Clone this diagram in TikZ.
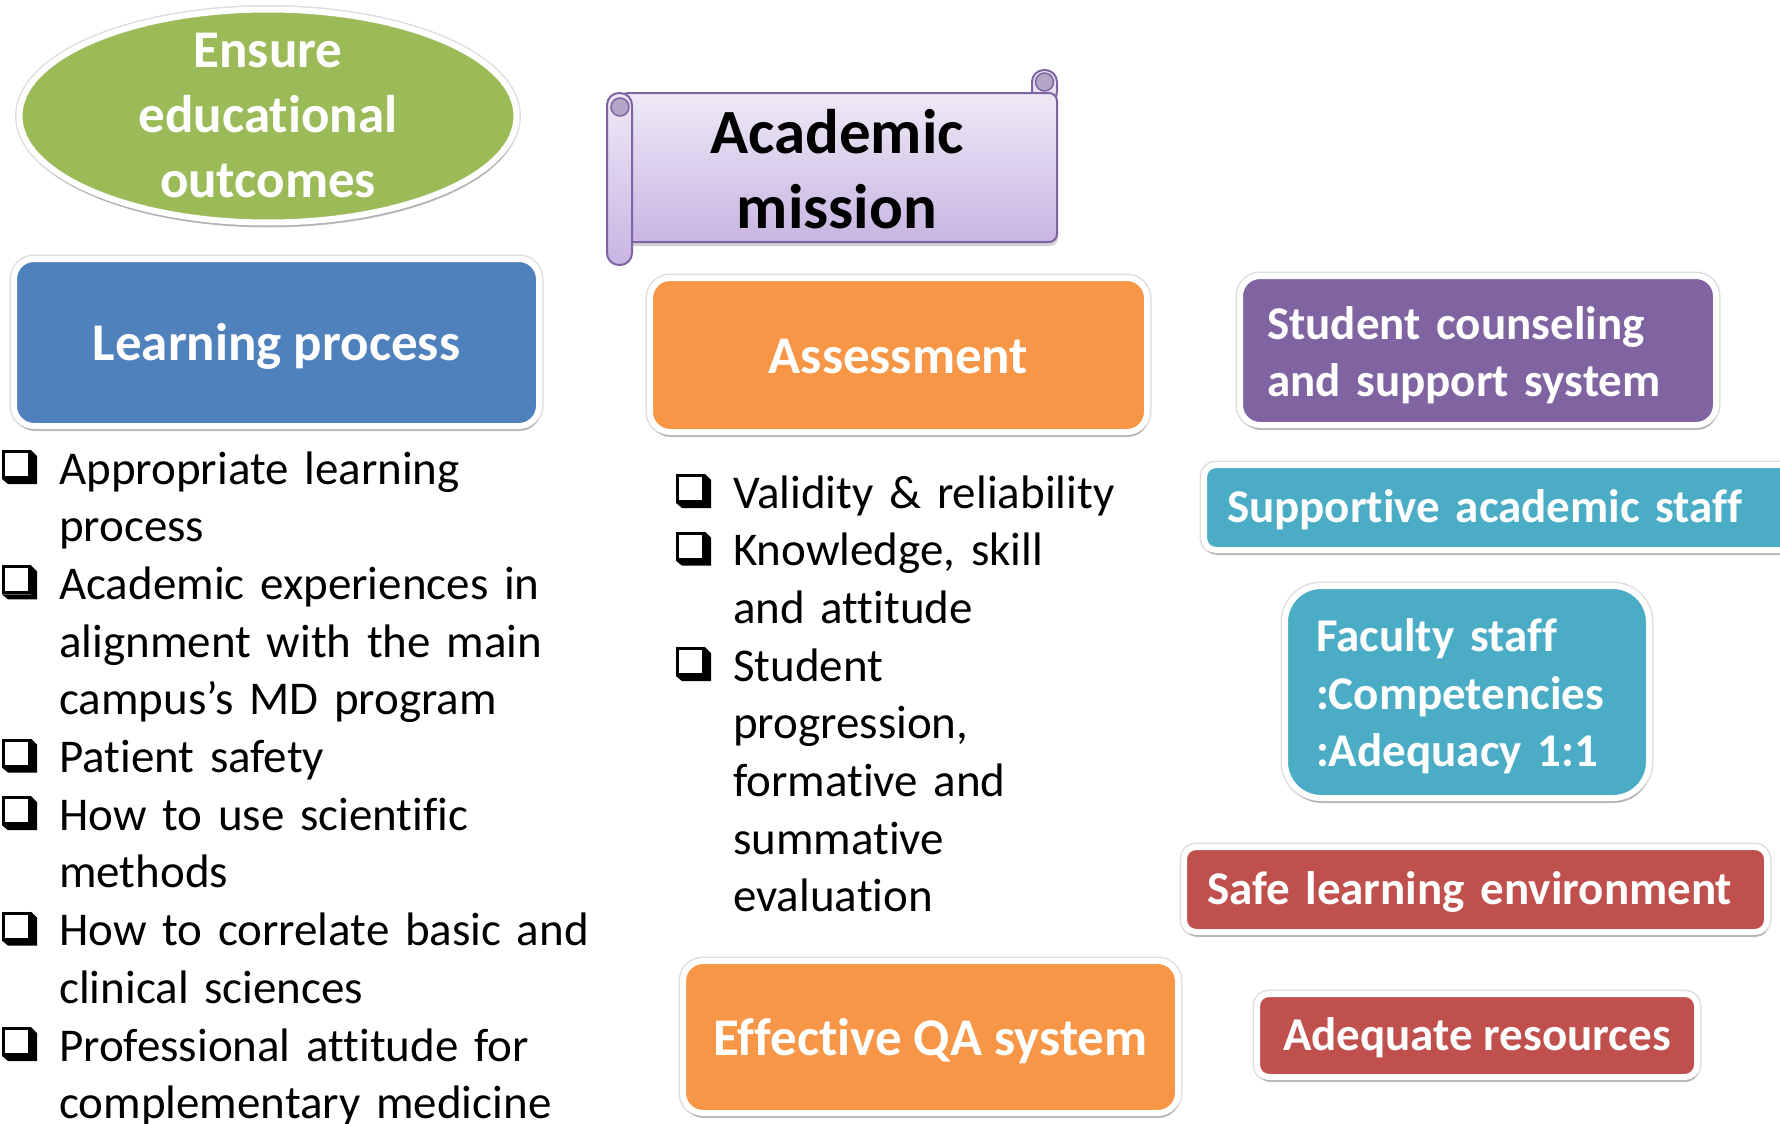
\documentclass[tikz,border=0pt]{standalone}
\usepackage{fontspec}
\setmainfont[Ligatures=NoCommon]{Carlito}
\usetikzlibrary{shapes.geometric,shadows}

\definecolor{ogreen}{HTML}{9BBB59}
\definecolor{oblue}{HTML}{4F81BD}
\definecolor{oorange}{HTML}{F79646}
\definecolor{opurple}{HTML}{8064A2}
\definecolor{oteal}{HTML}{4BACC6}
\definecolor{ored}{HTML}{C0504D}
\definecolor{scrolltop}{HTML}{EEE9F6}
\definecolor{scrollbot}{HTML}{C8B5E2}
\definecolor{curl}{HTML}{B3A6C6}

\newcommand{\bigfont}{\fontsize{53}{65}\selectfont\bfseries}
\newcommand{\midfont}{\fontsize{47}{57.5}\selectfont\bfseries}
\newcommand{\listfont}{\fontsize{47}{57.7}\selectfont}

\tikzstyle{tile} = [rectangle, rounded corners=20pt, draw=white, line width=6pt, text=white, inner sep=0pt, preaction={draw=black!13, line width=9pt}, drop shadow={shadow xshift=1pt, shadow yshift=-5pt, opacity=0.3, fill=black!70}]
\tikzstyle{goal} = [ellipse, fill=ogreen, draw=white, line width=6pt, minimum width=497pt, minimum height=213pt, inner sep=0pt, preaction={draw=black!13, line width=9pt}, drop shadow={shadow xshift=1pt, shadow yshift=-5pt, opacity=0.3, fill=black!70}]
\tikzstyle{listitem} = [anchor=base west, inner sep=0pt, text width=600pt, align=left, font=\listfont]
\tikzstyle{oneline} = [text height=36pt, text depth=0pt]
\tikzstyle{midline} = [text height=35pt, text depth=5pt]

\tikzset{chkbox/.pic={
  \draw[line width=3pt] (1.5,-32.5) rectangle (27.5,-6.5);
  \fill (29,-34) -- (35,-28) -- (35,0) -- (6,0) -- (0,-5) -- (29,-5) -- cycle;
}}

\begin{document}
\begin{tikzpicture}[x=1pt,y=-1pt]
  \useasboundingbox (0,0) rectangle (1780,1124);

  % goal ellipse
  \node[goal] (outcomes) at (268,116) {};
  \node[text=white, align=center, font=\fontsize{53}{65}\selectfont\bfseries] (outcomestext) at (outcomes) {Ensure\\educational\\outcomes};

  % scroll
  \shadedraw[top color=scrolltop, bottom color=scrolltop!70!scrollbot, draw=opurple, line width=2pt, rounded corners=12pt] (1032,70) rectangle (1057,104);
  \shadedraw[top color=scrolltop, bottom color=scrollbot, draw=opurple, line width=2pt, rounded corners=8pt, drop shadow={shadow xshift=1pt, shadow yshift=-4pt, opacity=0.25, fill=black!70}] (620,93) rectangle (1057,242);
  \shadedraw[top color=scrolltop, bottom color=scrollbot, draw=opurple, line width=2pt, rounded corners=12pt] (607,93) rectangle (632,265);
  \filldraw[fill=curl, draw=opurple, line width=1.5pt] (620,107) circle (9);
  \filldraw[fill=curl, draw=opurple, line width=1.5pt] (1044.5,82) circle (9);
  \node[align=center, inner sep=0pt, font=\fontsize{63}{75}\selectfont\bfseries] (mission) at (837,169) {Academic\\mission};

  % boxes
  \node[tile, oneline, fill=oblue, minimum width=525pt, minimum height=167pt, font=\bigfont] (learning) at (276.5,342.5) {Learning process};
  \node[tile, oneline, fill=oorange, minimum width=497pt, minimum height=154pt, font=\bigfont] (assess) at (898.5,355) {Assessment};
  \node[tile, oneline, fill=oorange, minimum width=495pt, minimum height=152pt, font=\bigfont] (qa) at (930.5,1037) {Effective QA system};
  \node[tile, fill=opurple, text width=422pt, text height=42pt, inner xsep=27pt, minimum height=149pt, align=left, font=\midfont] (counsel) at (1478,350.5) {Student counseling\\and support system};
  \node[tile, midline, fill=oteal, rounded corners=12pt, text width=550pt, inner xsep=23pt, minimum height=85pt, align=left, font=\midfont] (support) at (1502,507.5) {Supportive academic staff};
  \node[tile, fill=oteal, rounded corners=36pt, text width=302pt, text height=42pt, inner xsep=31pt, minimum height=212pt, align=left, font=\midfont] (faculty) at (1467,692) {Faculty staff\\:Competencies\\:Adequacy 1:1};
  \node[tile, midline, fill=ored, rounded corners=12pt, text width=537pt, inner xsep=23pt, minimum height=85pt, align=left, font=\midfont] (safe) at (1475.5,889.5) {Safe learning environment};
  \node[tile, midline, fill=ored, rounded corners=12pt, minimum width=440pt, minimum height=83pt, font=\midfont] (resources) at (1477,1035.5) {Adequate resources};

  % learning process list
  \node[listitem] (lp1) at (59,484) {Appropriate learning\\process};
  \node[listitem] (lp2) at (59,599.4) {Academic experiences in\\alignment with the main\\campus’s MD program};
  \node[listitem] (lp3) at (59,772.5) {Patient safety};
  \node[listitem] (lp4) at (59,830.2) {How to use scientific\\methods};
  \node[listitem] (lp5) at (59,945.6) {How to correlate basic and\\clinical sciences};
  \node[listitem] (lp6) at (59,1061) {Professional attitude for\\complementary medicine};

  % assessment list
  \node[listitem] (as1) at (733,508) {Validity \& reliability};
  \node[listitem] (as2) at (733,565.7) {Knowledge, skill\\and attitude};
  \node[listitem] (as3) at (733,681.1) {Student\\progression,\\formative and\\summative\\evaluation};

  \foreach \n in {lp1,lp2,lp3,lp4,lp5,lp6,as1,as2,as3}
    \pic at ([xshift=-57pt]\n.base west) {chkbox};
\end{tikzpicture}
\end{document}
